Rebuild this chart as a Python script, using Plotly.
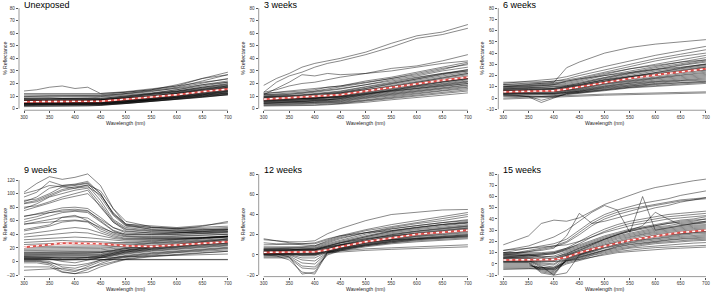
import plotly.graph_objects as go

W, H = 713, 294

# ---------------- data ----------------
wl = [300, 325, 350, 375, 400, 425, 450, 500, 550, 600, 650, 700]
wl_9wk = [300, 325, 350, 375, 400, 425, 450, 475, 500, 550, 600, 650, 700]
wl_15wk = [300, 325, 350, 375, 400, 425, 450, 475, 500, 525, 550, 575, 600, 625, 650, 675, 700]

titles = ["Unexposed", "3 weeks", "6 weeks", "9 weeks", "12 weeks", "15 weeks"]
x_ticks = [300, 350, 400, 450, 500, 550, 600, 650, 700]
y_ticks_unexposed = [0, 10, 20, 30, 40, 50, 60, 70, 80]
y_ticks_3wk = [0, 10, 20, 30, 40, 50, 60, 70, 80]
y_ticks_6wk = [-10, 0, 10, 20, 30, 40, 50, 60, 70, 80]
y_ticks_9wk = [-20, 0, 20, 40, 60, 80, 100, 120]
y_ticks_12wk = [-20, 0, 20, 40, 60, 80]
y_ticks_15wk = [-10, 0, 10, 20, 30, 40, 50, 60, 70, 80]

unexposed = [
    [14, 15, 17, 18, 16, 17, 12, 13, 15, 19, 24, 27],
    [11, 11, 11, 11.5, 11, 11, 11, 13, 15, 18, 24, 29],
    [10, 10, 10.5, 10, 10, 10, 10.5, 12, 14.5, 17, 22, 27],
    [9, 9, 9, 9.5, 9, 9, 9.5, 11.5, 13.5, 16.5, 20, 24],
    [8, 8.5, 8.5, 8, 8, 8.5, 9, 10.5, 12.5, 15, 19, 22],
    [8, 8, 8, 8, 7.5, 8, 8, 10, 12, 14, 17, 20],
    [7.5, 7.5, 7.5, 7, 7, 7, 7.5, 9.5, 11.5, 14, 17, 19.5],
    [7, 7, 7, 7, 7, 7, 7, 9, 11, 13.5, 16, 18.5],
    [6.5, 6.5, 6.5, 6.5, 6.5, 6.5, 7, 8.5, 10.5, 13, 15.5, 18],
    [6.5, 6, 6, 6, 6, 6, 6.5, 8, 10, 12, 15, 17.5],
    [6, 6, 6, 6, 6, 6, 6.5, 8, 9.5, 12, 14, 17],
    [6, 6, 5.5, 5.5, 5.5, 5.5, 6, 7.5, 9, 11.5, 14, 16.5],
    [5.5, 5.5, 5.5, 5.5, 5.5, 5.5, 6, 7.5, 9, 11, 13.5, 16],
    [5.5, 5.5, 5, 5, 5, 5, 5.5, 7, 8.5, 11, 13, 15.5],
    [5, 5, 5, 5, 5, 5, 5.5, 7, 8.5, 10.5, 13, 15],
    [5, 5, 5, 5, 4.5, 5, 5, 6.5, 8, 10.5, 12.5, 15],
    [5, 4.5, 4.5, 4.5, 4.5, 4.5, 5, 6.5, 8, 10, 12, 14.5],
    [4.5, 4.5, 4.5, 4.5, 4.5, 4.5, 5, 6, 7.5, 10, 12, 14],
    [4.5, 4.5, 4, 4, 4, 4, 4.5, 6, 7.5, 9.5, 11.5, 14],
    [4, 4, 4, 4, 4, 4, 4.5, 5.5, 7, 9, 11, 13.5],
    [4, 4, 4, 3.5, 3.5, 4, 4, 5.5, 7, 9, 11, 13],
    [3.5, 3.5, 3.5, 3.5, 3.5, 3.5, 4, 5, 6.5, 8.5, 10.5, 12.5],
    [3.5, 3.5, 3, 3, 3, 3, 3.5, 5, 6.5, 8.5, 10, 12],
    [3, 3, 3, 3, 3, 3, 3.5, 4.5, 6, 8, 10, 12],
    [3, 3, 2.5, 2.5, 2.5, 2.5, 3, 4.5, 6, 8, 9.5, 11.5],
    [2.5, 2.5, 2.5, 2.5, 2.5, 2.5, 3, 4, 5.5, 7.5, 9.5, 11],
    [2, 2, 2, 2, 2, 2, 2.5, 4, 5.5, 7.5, 9, 11],
    [1.5, 1.5, 1.5, 1.5, 1.5, 2, 2.5, 4, 5.5, 7, 9, 11],
    [9.5, 10, 10, 10, 10, 10, 10, 12, 14, 16, 19, 21],
    [7, 7.5, 8, 8, 8, 8, 8, 10, 12, 15, 18, 21],
    [6, 6, 6.5, 6.5, 6.5, 6.5, 7, 9, 11, 13.5, 16.5, 19],
    [5, 5.5, 5.5, 5.5, 5.5, 6, 6.5, 8, 10, 12.5, 15, 18],
    [4.5, 5, 5, 5, 5, 5, 5.5, 7, 9, 11.5, 14, 16],
    [4, 4.5, 4.5, 4.5, 4.5, 4.5, 5, 6.5, 8.5, 10.5, 13, 15],
    [3, 3.5, 3.5, 3.5, 3.5, 3.5, 4, 5.5, 7, 9.5, 11.5, 13.5],
    [12, 12, 12, 12, 12, 12, 12, 13.5, 15.5, 18, 21, 23.5],
    [2.5, 3, 3, 3, 3, 3, 3.5, 5, 7, 9, 11, 12.5],
    [6, 6.5, 7, 7, 7, 7, 7, 8.5, 10, 12.5, 15, 17],
]
unexposed_mean = [5.5, 5.5, 5.5, 5.5, 5.5, 5.5, 5.8, 7.5, 9, 11, 13.5, 15.5]

weeks_3 = [
    [18.5, 24, 28, 33, 36, 38, 40, 45, 52, 58, 61, 67],
    [13, 21, 26, 29, 33, 36, 38, 43, 49, 56, 59, 64],
    [11, 16, 21, 27, 26, 28, 27, 28, 32, 34, 38, 43],
    [13, 15, 18, 20, 21, 23, 25, 28, 30, 33, 36, 38],
    [12, 12.5, 13, 14, 15, 17, 18, 22, 25, 29, 33, 37],
    [11, 11.5, 12, 13, 14, 15.5, 17, 20.5, 24, 28, 32, 35],
    [10, 10.5, 11, 12, 13, 14, 15.5, 19, 23, 26, 30, 33],
    [10, 10, 10.5, 11, 12, 13, 14, 17.5, 21, 25, 28, 31],
    [9.5, 9.5, 10, 10.5, 11.5, 12.5, 13.5, 17, 20, 23.5, 27, 30],
    [9, 9, 9.5, 10, 11, 12, 13, 16, 19.5, 22.5, 26, 29],
    [9, 9, 9, 9.5, 10, 11, 12, 15, 18.5, 22, 25, 28],
    [8.5, 8.5, 9, 9, 10, 10.5, 11.5, 14.5, 18, 21, 24, 27],
    [8, 8, 8.5, 9, 9.5, 10, 11, 14, 17, 20, 23, 26],
    [8, 8, 8, 8.5, 9, 9.5, 10.5, 13.5, 16.5, 19.5, 22, 25],
    [7.5, 7.5, 8, 8, 8.5, 9, 10, 13, 16, 19, 21.5, 24],
    [7, 7.5, 7.5, 8, 8, 9, 9.5, 12.5, 15.5, 18, 21, 23.5],
    [7, 7, 7, 7.5, 8, 8.5, 9, 12, 15, 17.5, 20, 23],
    [6.5, 6.5, 7, 7, 7.5, 8, 9, 11.5, 14.5, 17, 19.5, 22],
    [6, 6, 6.5, 7, 7, 7.5, 8.5, 11, 14, 16.5, 19, 21.5],
    [6, 6, 6, 6.5, 7, 7, 8, 10.5, 13, 16, 18, 21],
    [5.5, 5.5, 6, 6, 6.5, 7, 7.5, 10, 12.5, 15, 17.5, 20],
    [5, 5, 5.5, 5.5, 6, 6.5, 7, 9.5, 12, 14.5, 17, 19],
    [5, 5, 5, 5.5, 5.5, 6, 6.5, 9, 11.5, 14, 16, 18.5],
    [4.5, 4.5, 5, 5, 5, 5.5, 6, 8.5, 11, 13, 15.5, 17.5],
    [4, 4, 4.5, 4.5, 5, 5, 5.5, 8, 10, 12.5, 14.5, 17],
    [3.5, 3.5, 4, 4, 4.5, 4.5, 5, 7, 9.5, 12, 14, 16],
    [3, 3, 3.5, 3.5, 4, 4, 4.5, 6.5, 8.5, 11, 13, 15],
    [2.5, 2.5, 3, 3, 3, 3.5, 4, 6, 8, 10, 12, 14],
    [2, 2, 2, 2.5, 2.5, 3, 3.5, 5, 7, 9, 10.5, 12.5],
    [11, 11, 11.5, 12.5, 13.5, 15, 16, 19, 22, 25, 28, 30],
    [7, 7.5, 8, 9, 10, 11, 12.5, 16, 20, 24, 27.5, 31],
    [6, 6.5, 7, 7.5, 8, 9, 10, 13.5, 17, 21, 24.5, 28],
    [9, 9.5, 10, 10.5, 11, 11.5, 12.5, 15, 17.5, 20, 22, 24],
    [4, 4.5, 5, 5.5, 6, 7, 8, 11, 14.5, 18, 21, 24],
    [8, 8, 8, 8, 8.5, 9, 9.5, 12, 14, 16, 18, 20],
    [12, 13, 14, 15, 16, 17, 18, 21, 24, 27, 31, 36],
]
weeks_3_mean = [7.5, 8, 8.5, 9, 9.5, 10.5, 11, 14, 17, 20, 22.5, 25]

weeks_6 = [
    [10, 11, 12, 13, 14, 27, 32, 40, 45, 48, 50, 52],
    [13, 14, 15, 16, 17, 19, 22, 28, 33, 38, 42, 46],
    [14, 14, 14, 14.5, 15, 17, 20, 25, 30, 35, 39, 43],
    [12, 12.5, 13, 14, 15, 16, 18, 23, 28, 33, 37, 40],
    [11, 11, 11.5, 12, 13, 14, 16, 21, 26, 30, 34, 38],
    [10, 10, 10.5, 11, 12, 13, 15, 20, 24, 28, 32, 36],
    [9, 9.5, 10, 10.5, 11, 12, 14, 18.5, 23, 27, 30.5, 34],
    [9, 9, 9, 9.5, 10, 11, 13, 17.5, 21.5, 25, 29, 32],
    [8, 8, 8.5, 9, 9, 10.5, 12, 16.5, 20.5, 24, 27, 30.5],
    [8, 8, 8, 8, 8.5, 10, 11.5, 16, 19.5, 23, 26, 29],
    [7, 7.5, 7.5, 7.5, 8, 9.5, 11, 15, 19, 22, 25, 28],
    [7, 7, 7, 7, 7, 9, 10.5, 14.5, 18, 21, 24, 27],
    [6.5, 6.5, 6.5, 7, 7, 8.5, 10, 14, 17.5, 20.5, 23, 26],
    [6, 6, 6, 6.5, 6.5, 8, 9.5, 13.5, 17, 20, 22.5, 25],
    [6, 6, 6, 6, 6, 7.5, 9, 13, 16, 19, 21.5, 24],
    [5.5, 5.5, 5.5, 5.5, 6, 7, 8.5, 12.5, 15.5, 18, 20.5, 23],
    [5, 5, 5, 5, 5.5, 7, 8, 12, 15, 17.5, 20, 22],
    [5, 5, 5, 5, 5, 6.5, 7.5, 11, 14, 17, 19, 21],
    [4.5, 4.5, 4.5, 4.5, 4.5, 6, 7, 10.5, 13.5, 16, 18, 20],
    [4, 4, 4, 4, 4, 5.5, 6.5, 10, 13, 15, 17, 19],
    [4, 4, 3.5, 3.5, 4, 5, 6, 9.5, 12, 14.5, 16, 18],
    [3.5, 3.5, 3, 3, 3.5, 5, 6, 9, 11.5, 14, 15.5, 17],
    [3, 3, 2.5, 2.5, 3, 4.5, 5.5, 8.5, 11, 13, 15, 16],
    [3, 2.5, 1, -4, 0, 4, 5, 8, 10.5, 12.5, 14, 15],
    [2.5, 2, 1.5, 1.5, 2, 4, 5, 7.5, 10, 12, 13.5, 14.5],
    [2, 2, 1.5, -2, 1, 3.5, 4.5, 7, 9.5, 11, 12.5, 14],
    [1.5, 1.5, 1, 1, 1.5, 3, 4, 6.5, 9, 10.5, 12, 13],
    [-1, -0.5, 0, 0.5, 1, 1.5, 2, 2.5, 3, 3.5, 4, 4.5],
    [0, 0.5, 1, 1.5, 2, 2.5, 3, 3.5, 4, 4.5, 5, 5.5],
    [10, 10.5, 11, 11.5, 12, 15, 17, 22, 26, 29, 32, 34],
    [8, 8.5, 9, 9.5, 10, 11, 13, 18, 22, 26, 29.5, 33],
    [6, 6.5, 7, 7, 7.5, 9, 11, 15, 19, 23, 26.5, 30],
    [12, 12, 12.5, 13, 13.5, 15, 17, 20, 23, 25.5, 27.5, 30],
    [5, 5.5, 6, 6, 6.5, 8, 10, 14, 17.5, 21, 24, 27.5],
    [7, 7, 7.5, 8, 8.5, 10, 12, 16, 19, 21.5, 23.5, 25],
]
weeks_6_mean = [5.5, 5.8, 6, 6.2, 6.5, 8, 10, 14, 17.5, 20.5, 23, 26]

weeks_9 = [
    [102, 115, 125, 121, 124, 129, 112, 78, 59, 51, 48, 52, 59],
    [88, 95, 108, 112, 113, 116, 100, 70, 53, 50, 49, 50, 52],
    [90, 92, 100, 110, 112, 115, 95, 68, 52, 48, 47, 49, 50],
    [86, 90, 98, 106, 110, 112, 90, 62, 50, 46, 45, 46, 48],
    [78, 85, 95, 100, 105, 108, 85, 60, 48, 45, 44, 44, 45],
    [80, 82, 88, 95, 100, 105, 80, 58, 47, 44, 43, 42, 44],
    [100, 105, 112, 110, 108, 110, 98, 72, 55, 50, 48, 47, 48],
    [75, 80, 86, 92, 96, 100, 82, 58, 45, 42, 42, 43, 44],
    [95, 102, 118, 112, 114, 118, 100, 70, 55, 52, 50, 53, 57],
    [85, 88, 96, 104, 108, 113, 104, 78, 54, 47, 45, 46, 47],
    [66, 70, 75, 79, 80, 78, 65, 50, 42, 40, 40, 41, 43],
    [62, 66, 72, 76, 77, 75, 60, 46, 40, 39, 40, 41, 42],
    [58, 62, 67, 72, 74, 72, 58, 45, 38, 37, 38, 39, 40],
    [55, 58, 62, 65, 66, 64, 52, 42, 37, 36, 37, 38, 40],
    [67, 70, 72, 74, 75, 74, 62, 50, 44, 42, 42, 44, 46],
    [47, 50, 54, 65, 68, 60, 48, 40, 36, 35, 35, 36, 37],
    [45, 48, 52, 58, 60, 58, 45, 38, 34, 34, 34, 35, 36],
    [40, 42, 45, 48, 50, 48, 42, 36, 33, 33, 34, 35, 37],
    [36, 38, 40, 42, 43, 42, 38, 34, 32, 32, 33, 34, 36],
    [32, 33, 35, 36, 36, 35, 33, 31, 30, 31, 33, 35, 37],
    [28, 29, 30, 31, 30, 30, 29, 28, 28, 30, 32, 35, 38],
    [25, 26, 26, 27, 26, 26, 26, 26, 27, 29, 31, 34, 37],
    [22, 22, 23, 23, 23, 23, 23, 24, 25, 28, 30, 33, 36],
    [20, 20, 21, 21, 21, 21, 21, 22, 24, 27, 29, 32, 34],
    [18, 18, 18, 19, 19, 19, 19, 21, 23, 26, 28, 31, 33],
    [16, 16, 16, 16, 16, 16, 17, 19, 21, 24, 27, 30, 32],
    [14, 14, 14, 14, 14, 14, 15, 17, 20, 23, 26, 29, 31],
    [12, 12, 12, 12, 12, 12, 13, 16, 19, 22, 25, 28, 30],
    [10, 10, 10, 10, 10, 10, 11, 14, 17, 21, 24, 27, 29],
    [9, 9, 9, 9, 9, 9, 10, 13, 16, 20, 23, 26, 28],
    [8, 8, 8, 8, 8, 8, 9, 12, 15, 19, 22, 25, 27],
    [7, 7, 7, 6, 6, 7, 8, 11, 14, 18, 21, 24, 26],
    [6, 6, 6, 5, 5, 6, 7, 10, 13, 17, 20, 23, 25],
    [5, 5, 4, 3, 3, 4, 6, 9, 12, 16, 19, 22, 24],
    [4, 4, 3, 2, 2, 3, 5, 8, 11, 15, 18, 21, 23],
    [3, 3, 3, 3, 3, 3, 3, 3, 3, 3, 3, 3, 3],
    [2.5, 2.5, 2.5, 2.5, 2.5, 2.5, 2.5, 2.5, 2.5, 2.5, 2.5, 2.5, 2.5],
    [2, 2, 0, -8, -10, -5, 2, 6, 9, 13, 16, 19, 21],
    [0, 0, -3, -12, -15, -8, 0, 4, 7, 11, 14, 17, 19],
    [-2, -2, -5, -15, -18, -12, -3, 3, 6, 10, 13, 15, 17],
    [1, 1, -2, -5, -6, -3, 2, 5, 8, 12, 15, 18, 20],
    [-13, -12, -10, -10, -13, -10, -5, 0, 4, 8, 11, 13, 15],
    [-8, -8, -8, -16, -18, -16, -8, -2, 3, 7, 10, 13, 15],
    [5, 5, 5, 5, 5, 5, 5, 6, 7, 8, 9, 10, 11],
    [11, 11, 11, 11, 11, 12, 13, 15, 18, 22, 26, 30, 33],
    [7, 7, 6, 4, 4, 6, 8, 12, 16, 20, 24, 27, 30],
    [4, 4, 4, 0, -2, 2, 6, 10, 14, 18, 22, 25, 27],
    [13, 13, 13, 13, 13, 13, 14, 16, 19, 22, 25, 27, 29],
    [55, 56, 58, 60, 61, 59, 50, 43, 40, 40, 42, 44, 47],
]
weeks_9_mean = [21, 23, 25, 27, 27, 27, 26, 24.5, 23, 22, 24, 26, 29]

weeks_12 = [
    [16, 14, 13, 13, 14, 21, 26, 34, 40, 42, 44.5, 45],
    [2, 1, -2, -19, -17, 3, 6, 10, 13, 16, 18, 20],
    [0, -1, -5, -17, -19, 2, 5, 9, 12, 15, 17, 19],
    [8, 8, 8, 8, 9, 14, 18, 24, 28, 32, 36, 40],
    [7, 7, 7.5, 7.5, 8, 12, 16, 22, 27, 31, 34, 38],
    [6, 6, 6.5, 7, 7, 11, 14.5, 20.5, 25.5, 29, 32, 35],
    [5.5, 5.5, 6, 6, 6.5, 10, 13.5, 19, 24, 27.5, 30.5, 33],
    [5, 5, 5, 5.5, 5.5, 9, 12.5, 18, 23, 26, 29, 31.5],
    [4.5, 4.5, 4.5, 5, 5, 8, 11.5, 17, 22, 25, 27.5, 30],
    [4, 4, 4, 4.5, 4.5, 7.5, 10.5, 16, 21, 24, 26.5, 29],
    [3.5, 3.5, 4, 4, 4, 7, 10, 15, 20, 23, 25.5, 28],
    [3, 3, 3.5, 3.5, 3.5, 6.5, 9.5, 14, 19, 22, 24.5, 27],
    [3, 3, 3, 3, 3, 6, 9, 13.5, 18, 21, 23.5, 26],
    [2.5, 2.5, 2.5, 2.5, 2.5, 5.5, 8.5, 13, 17, 20, 22.5, 25],
    [2, 2, 2, 2, 2, 5, 8, 12.5, 16, 19, 21.5, 24],
    [2, 2, 2, 1, 1, 4.5, 7.5, 12, 15.5, 18.5, 20.5, 23],
    [1.5, 1.5, 1.5, 0, 0, 4, 7, 11.5, 15, 18, 20, 22],
    [1, 1, 1, -1, -1, 3.5, 6.5, 11, 14.5, 17, 19, 21],
    [0.5, 0.5, 0.5, -3, -3, 3, 6, 10.5, 14, 16.5, 18, 20],
    [0, 0, 0, -5, -6, 2.5, 5.5, 10, 13.5, 16, 17.5, 19],
    [-1, -1, -1, -8, -9, 2, 5, 9.5, 13, 15, 16.5, 18],
    [-2, -2, -2, -11, -12, 1, 4.5, 9, 12, 14, 15.5, 17],
    [-3, -3, -3, -13, -14, 0, 4, 8, 11, 13, 14.5, 16],
    [1, 1, 1, 1, 1, 3, 4, 6, 7, 8, 9, 10],
    [0, 0, 0, 0, 0, 2, 3, 4.5, 5.5, 6.5, 7.5, 8],
    [10, 10, 10.5, 11, 11, 15, 19, 25, 30, 34, 38, 42],
    [12, 11, 11, 10, 9, 13, 17, 22, 26, 29, 32, 34],
    [4, 4, 4.5, 5, 5, 8.5, 12, 18, 23.5, 27, 30, 32],
    [3, 3, 3, 2, 2, 6, 9.5, 15, 20, 23.5, 26, 28.5],
    [2, 2, 2, 1.5, 1.5, 5, 8, 13.5, 18, 21.5, 24, 26.5],
    [1, 1, 1, 0, 0.5, 4, 7, 12, 16.5, 20, 22.5, 25],
    [5, 5, 5, 6, 6, 9, 12, 16, 19, 21, 22.5, 24],
    [6, 6, 6, 5, 5, 8, 10, 13, 15, 16, 17, 18],
    [15, 14, 12, 11, 12, 16, 19, 22, 24, 27, 30, 32],
]
weeks_12_mean = [2.5, 2.7, 2.8, 3, 3, 5, 8, 13, 17, 20.5, 22.5, 24.5]

weeks_15 = [
    [17, 21, 25, 36, 39, 38, 41, 47, 53, 57, 61, 65, 68, 70, 72.5, 74, 75.5],
    [10, 10, 11, 12, 14, 25, 45, 36, 38, 41, 44, 47, 50, 52, 55, 57, 59],
    [12, 14, 16, 20, 24, 30, 38, 46, 52, 48, 28, 60, 30, 32, 34, 36, 38],
    [8, 8, 8, 7, 6, 9, 14, 18, 22, 26, 30, 34, 46, 40, 35, 36, 37],
    [10, 12, 14, 16, 18, 22, 30, 38, 44, 48, 51, 54, 56, 58, 61, 63, 65],
    [9, 10, 12, 14, 16, 20, 28, 36, 42, 46, 49, 51, 53, 55, 57, 58, 59],
    [8, 9, 11, 13, 15, 19, 26, 34, 40, 44, 47, 50, 52, 54, 56, 57, 58],
    [6, 7, 8, 9, 10, 14, 20, 26, 31, 35, 38, 40, 42, 44, 45, 46, 47],
    [5, 6, 7, 8, 9, 13, 18, 24, 29, 33, 36, 38, 40, 42, 43, 44, 45],
    [10, 10, 10, 10, 11, 14, 17, 21, 25, 28, 31, 33, 35, 37, 39, 40, 42],
    [9, 9, 9, 9, 10, 13, 16, 20, 24, 27, 30, 32, 34, 36, 37, 38, 40],
    [8, 8, 8, 8, 9, 12, 15, 19, 23, 26, 29, 31, 33, 34, 36, 37, 38],
    [7, 7, 7, 6, 7, 11, 14, 18, 22, 25, 27.5, 30, 32, 33, 34.5, 35.5, 36.5],
    [6, 6, 6, 5, 5, 10, 13, 17, 21, 24, 26.5, 29, 31, 32, 33.5, 34.5, 35],
    [5.5, 5.5, 5.5, 4, 4, 9, 12, 16, 20, 23, 25.5, 28, 30, 31, 32.5, 33.5, 34],
    [5, 5, 5, 3, 3, 8, 11, 15, 19, 22, 24.5, 27, 29, 30, 31.5, 32.5, 33],
    [4.5, 4.5, 4.5, 2, 2, 7.5, 10.5, 14, 18, 21, 23.5, 26, 28, 29, 30.5, 31.5, 32],
    [4, 4, 4, 1, 0, 7, 10, 13.5, 17, 20, 22.5, 25, 27, 28, 29.5, 30.5, 31],
    [3.5, 3.5, 3.5, 0, -1, 6.5, 9.5, 13, 16.5, 19, 21.5, 24, 26, 27, 28.5, 29.5, 30],
    [3, 3, 3, -1, -3, 6, 9, 12.5, 16, 18.5, 21, 23, 25, 26, 27.5, 28.5, 29],
    [2.5, 2.5, 2.5, -3, -5, 5.5, 8.5, 12, 15.5, 18, 20.5, 22, 24, 25, 26.5, 27.5, 28],
    [2, 2, 2, -5, -7, 5, 8, 11.5, 15, 17.5, 20, 21.5, 23, 24, 25.5, 26.5, 27],
    [1.5, 1.5, 1.5, -7, -9, 4.5, 7.5, 11, 14.5, 17, 19, 21, 22.5, 23.5, 24.5, 25.5, 26],
    [1, 1, 1, -8, -10, 4, 7, 10.5, 14, 16.5, 18.5, 20, 21.5, 22.5, 23.5, 24.5, 25],
    [0, 0, 0, -6, -8, 3.5, 6.5, 10, 13, 15.5, 17.5, 19, 20.5, 21.5, 22.5, 23.5, 24],
    [-1, -1, -1, -4, -6, 3, 6, 9.5, 12.5, 15, 17, 18.5, 20, 21, 22, 22.5, 23],
    [-2, -2, -2, -3, -4, 2.5, 5.5, 9, 12, 14, 16, 17.5, 19, 20, 21, 21.5, 22],
    [-3, -3, -3, -3, -3, 2, 5, 8.5, 11, 13, 15, 16.5, 18, 19, 20, 20.5, 21],
    [-5, -4.5, -4, -4, -4, 1, 4, 7.5, 10, 12, 14, 15, 16, 17, 18, 18.5, 19],
    [-4, -4, -4, -5, -5, 0, 3, 6, 9, 11, 12.5, 13.5, 14.5, 15, 15.5, 16, 16.5],
    [2, 2, 2, 2, 2, 3, 4, 6, 8, 10, 11, 12, 13, 13.5, 14, 14.5, 15],
    [12, 13, 14, 15, 16, 17, 20, 24, 28, 31, 34, 36, 38, 40, 41, 42, 43],
    [7, 7, 8, 6, 4, 8, 12, 17, 22, 26, 29, 32, 34, 36, 38, 39, 40],
    [3, 3, 3, -2, -10, -8, 8, 12, 16, 19, 21, 23, 25, 26, 27, 28, 29],
]
weeks_15_mean = [3.5, 3.5, 3.5, 3.5, 4, 6, 10, 13, 16, 18.5, 21, 23, 25, 26.5, 28, 29, 30]

# ---------------- layout geometry (pixels) ----------------
cols_px = [(19, 233), (258.7, 473), (498.3, 711)]
rows_px = [(6, 111), (173, 278.5)]
x_range = [290.2, 710]

panels = [
    dict(wl=wl, curves=unexposed, mean=unexposed_mean, yticks=y_ticks_unexposed, yr=[-1.35, 81.8], col=0, row=0),
    dict(wl=wl, curves=weeks_3, mean=weeks_3_mean, yticks=y_ticks_3wk, yr=[-1.35, 81.8], col=1, row=0),
    dict(wl=wl, curves=weeks_6, mean=weeks_6_mean, yticks=y_ticks_6wk, yr=[-10.9, 82.0], col=2, row=0),
    dict(wl=wl_9wk, curves=weeks_9, mean=weeks_9_mean, yticks=y_ticks_9wk, yr=[-22.3, 132.1], col=0, row=1),
    dict(wl=wl, curves=weeks_12, mean=weeks_12_mean, yticks=y_ticks_12wk, yr=[-21.5, 82.3], col=1, row=1),
    dict(wl=wl_15wk, curves=weeks_15, mean=weeks_15_mean, yticks=y_ticks_15wk, yr=[-11.3, 82.0], col=2, row=1),
]

FONT = "Liberation Sans, Arial, sans-serif"
AX_COL = "#555555"

fig = go.Figure()
layout = {}
shapes = []
annotations = []

for i, p in enumerate(panels):
    n = i + 1
    sfx = "" if n == 1 else str(n)
    xa, ya = "x" + sfx, "y" + sfx
    for c in p["curves"]:
        fig.add_trace(go.Scatter(x=p["wl"], y=c, mode="lines",
                                 line=dict(color="rgba(0,0,0,0.78)", width=0.6),
                                 hoverinfo="skip", showlegend=False, xaxis=xa, yaxis=ya))
    fig.add_trace(go.Scatter(x=p["wl"], y=p["mean"], mode="lines",
                             line=dict(color="rgb(226,80,76)", width=2.0),
                             hoverinfo="skip", showlegend=False, xaxis=xa, yaxis=ya))
    fig.add_trace(go.Scatter(x=p["wl"], y=p["mean"], mode="lines",
                             line=dict(color="white", width=1.4, dash="3px,3px"),
                             hoverinfo="skip", showlegend=False, xaxis=xa, yaxis=ya))

    c0, c1 = cols_px[p["col"]]
    r0, r1 = rows_px[p["row"]]
    layout["xaxis" + sfx] = dict(
        domain=[c0 / W, c1 / W], range=x_range, anchor=ya,
        tickvals=x_ticks, ticks="outside", ticklen=2.2, tickwidth=0.6, tickcolor=AX_COL,
        showgrid=False, zeroline=False, showline=False,
        tickfont=dict(size=4.6, family=FONT, color="#333333"))
    layout["yaxis" + sfx] = dict(
        domain=[1 - r1 / H, 1 - r0 / H], range=p["yr"], anchor=xa,
        tickvals=p["yticks"], ticks="outside", ticklen=2.2, tickwidth=0.6, tickcolor=AX_COL,
        showgrid=False, zeroline=False, showline=False,
        tickfont=dict(size=4.6, family=FONT, color="#333333"))

    shapes.append(dict(type="line", xref=xa, yref=ya + " domain", x0=300, x1=700, y0=0, y1=0,
                       line=dict(color=AX_COL, width=0.6)))
    shapes.append(dict(type="line", xref=xa + " domain", yref=ya, x0=0, x1=0,
                       y0=p["yticks"][0], y1=p["yticks"][-1],
                       line=dict(color=AX_COL, width=0.6)))

    # panel title
    ty = 4.8 if p["row"] == 0 else 171
    annotations.append(dict(text=titles[i], xref=xa, x=300, xanchor="left",
                            yref="paper", y=1 - ty / H, yanchor="middle", showarrow=False,
                            font=dict(size=9, family=FONT, color="black"), borderpad=0, xshift=-1))
    # x-axis title
    xy = 123.5 if p["row"] == 0 else 290.5
    annotations.append(dict(text="Wavelength (nm)", xref=xa, x=500, xanchor="center",
                            yref="paper", y=1 - xy / H, yanchor="middle", showarrow=False,
                            font=dict(size=5.2, family=FONT, color="#222222"), borderpad=0))
    # y-axis title
    yx = [5, 243, 482][p["col"]]
    annotations.append(dict(text="% Reflectance", xref="paper", x=yx / W, xanchor="center",
                            yref="paper", y=1 - ((r0 + r1) / 2) / H, yanchor="middle",
                            textangle=-90, showarrow=False,
                            font=dict(size=5.2, family=FONT, color="#222222")))

fig.update_layout(**layout)
fig.update_layout(width=W, height=H, margin=dict(l=0, r=0, t=0, b=0),
                  paper_bgcolor="white", plot_bgcolor="white",
                  shapes=shapes, annotations=annotations, showlegend=False)

fig.write_html("out.html")
